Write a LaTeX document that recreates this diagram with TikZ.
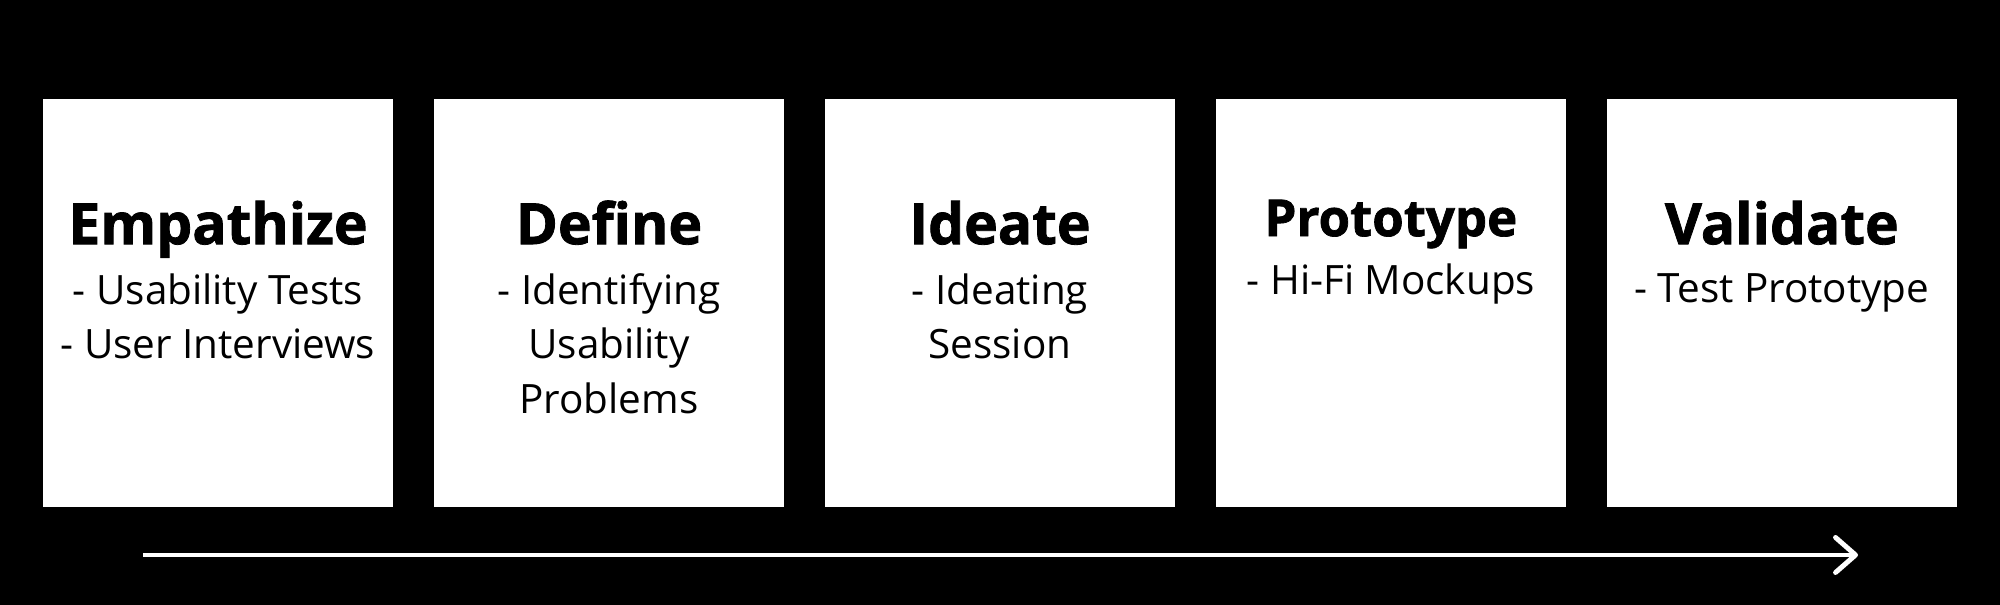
\documentclass[tikz,border=0pt]{standalone}
\usepackage{fontspec}
\setmainfont{Open Sans}
\usetikzlibrary{positioning,arrows.meta,calc}
\tikzset{
  stage/.style={rectangle, fill=white, minimum width=7cm, minimum height=8.16cm, inner sep=0pt},
  ttl/.style={anchor=base, inner sep=0pt, font=\bfseries\addfontfeature{FakeBold=1.4}\fontsize{32.4}{36}\selectfont},
  items/.style={anchor=north, inner sep=0pt, align=center, font=\fontsize{23}{31}\selectfont},
  flow/.style={draw=white, line width=2.8pt, -{Straight Barb[length=4mm, width=7mm, round]}},
}
\begin{document}
\begin{tikzpicture}
  \fill[black] (0,0) rectangle (40,12.1);
  \useasboundingbox (0,0) rectangle (40,12.1);

  \node[stage] (emp) at (4.36,6.04) {};
  \node[stage, right=0.805cm of emp] (def) {};
  \node[stage, right=0.805cm of def] (ide) {};
  \node[stage, right=0.805cm of ide] (pro) {};
  \node[stage, right=0.805cm of pro] (val) {};

  \node[ttl] (empT) at ($(emp.north)+(0,-2.91)$) {Empathize};
  \node[items] (empL) at ($(emp.north)+(0,-3.49)$) {- Usability Tests\\- User Interviews};
  \node[ttl] (defT) at ($(def.north)+(0,-2.91)$) {Define};
  \node[items] (defL) at ($(def.north)+(0,-3.49)$) {- Identifying\\Usability\\Problems};
  \node[ttl] (ideT) at ($(ide.north)+(0,-2.91)$) {Ideate};
  \node[items] (ideL) at ($(ide.north)+(0,-3.49)$) {- Ideating\\Session};
  \node[ttl, font=\bfseries\addfontfeature{FakeBold=1.4}\fontsize{29}{33}\selectfont] (proT) at ($(pro.north)+(0,-2.75)$) {Prototype};
  \node[items] (proL) at ($(pro.north)+(0,-3.29)$) {- Hi-Fi Mockups};
  \node[ttl] (valT) at ($(val.north)+(0,-2.91)$) {Validate};
  \node[items] (valL) at ($(val.north)+(0,-3.49)$) {- Test Prototype};

  \coordinate (start) at (2.86,1);
  \coordinate (stop) at (37.16,1);
  \draw[flow] (start) -- (stop);
\end{tikzpicture}
\end{document}
